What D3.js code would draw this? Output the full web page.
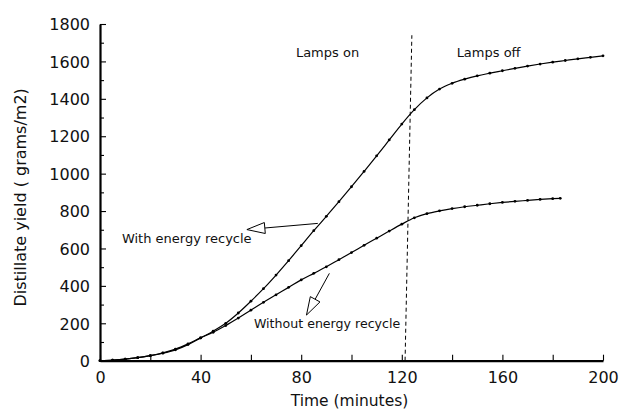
<!DOCTYPE html>
<html>
<head>
<meta charset="utf-8">
<script src="https://cdn.jsdelivr.net/npm/d3@7"></script>
<style>
  html, body { margin: 0; padding: 0; background: #fff; }
  svg { display: block; }
  text { font-family: "DejaVu Sans", sans-serif; fill: #111; }
</style>
</head>
<body>
<svg id="chart" width="619" height="412"></svg>
<script>
// ---------- data ----------
const withTime = [0,5,10,15,20,25,30,35,40,45,50,55,60,65,70,75,80,85,90,95,100,105,110,115,120,125,130,135,140,145,150,155,160,165,170,175,180,185,190,195,200];
const withYield = [0,3,8,16,27,40,58,86,122,158,200,255,318,385,458,535,615,695,772,850,930,1012,1095,1180,1265,1342,1405,1452,1483,1505,1523,1537,1550,1563,1575,1586,1596,1605,1614,1622,1630];

const withoutTime = [0,5,10,15,20,25,30,35,40,45,50,55,60,65,70,75,80,85,90,95,100,105,110,115,120,125,130,135,140,145,150,155,160,165,170,175,180,183];
const withoutYield = [0,3,8,16,27,42,62,90,122,152,188,228,270,312,352,392,432,467,502,540,578,617,655,693,730,764,786,801,813,823,831,839,846,852,857,862,866,868];

const xTicks = [0,40,80,120,160,200];
const xMinorTicks = [20,60,100,140,180];
const yTicks = [0,200,400,600,800,1000,1200,1400,1600,1800];
const yMinorTicks = [100,300,500,700,900,1100,1300,1500,1700];

const xTitle = "Time (minutes)";
const yTitle = "Distillate yield ( grams/m2)";

// lamps-off boundary (time, yield) endpoints
const lampLineTime = [121.3, 124];
const lampLineYield = [0, 1740];

// annotations: label text and anchor (time, yield)
const annLabels = ["Lamps on", "Lamps off", "With energy recycle", "Without energy recycle"];
const annTime = [77.9, 141.8, 8.7, 61.2];
const annYield = [1623, 1623, 631, 173];
// arrows: from (time, yield) on the curve to tip (time, yield)
const arrowFromTime = [86.6, 91.2];
const arrowFromYield = [734, 467];
const arrowToTime = [58.4, 82.1];
const arrowToYield = [701, 244];

// ---------- chart ----------
const svg = d3.select("#chart");
const x = d3.scaleLinear().domain([0, 200]).range([100, 603]);
const y = d3.scaleLinear().domain([0, 1800]).range([360.7, 24]);

// axes
const xAxis = d3.axisBottom(x).tickValues(xTicks).tickSizeInner(-6).tickSizeOuter(0).tickPadding(11).tickFormat(d3.format("d"));
const gx = svg.append("g").attr("transform", `translate(0,${y(0)})`).call(xAxis);
const gxm = svg.append("g").attr("transform", `translate(0,${y(0)})`)
  .call(d3.axisBottom(x).tickValues(xMinorTicks).tickSizeInner(-6).tickSizeOuter(0).tickFormat(""));
gxm.select(".domain").remove();

const yAxis = d3.axisLeft(y).tickValues(yTicks).tickSizeInner(-6).tickSizeOuter(0).tickPadding(10).tickFormat(d3.format("d"));
const gy = svg.append("g").attr("transform", `translate(${x(0)},0)`).call(yAxis);
const gym = svg.append("g").attr("transform", `translate(${x(0)},0)`)
  .call(d3.axisLeft(y).tickValues(yMinorTicks).tickSizeInner(-4).tickSizeOuter(0).tickFormat(""));
gym.select(".domain").remove();

[gx, gy, gxm, gym].forEach(g => {
  g.selectAll(".domain").attr("stroke", "#000").attr("stroke-width", 2.2);
  g.selectAll(".tick line").attr("stroke", "#000").attr("stroke-width", 1.1);
  g.selectAll(".tick text").attr("font-family", "DejaVu Sans, sans-serif").attr("font-size", 16).attr("fill", "#111");
});
gx.selectAll(".tick text").attr("dy", "0.71em");
gy.selectAll(".tick text").attr("dy", "0.36em");

// axis titles
svg.append("text").attr("x", (x(0) + x(200)) / 2 - 2).attr("y", 406)
  .attr("text-anchor", "middle").attr("font-size", 15.5).text(xTitle);
svg.append("text").attr("transform", `translate(26,${(y(0) + y(1800)) / 2 + 5}) rotate(-90)`)
  .attr("text-anchor", "middle").attr("font-size", 16).text(yTitle);

// lines
const line = d3.line().x(d => x(d[0])).y(d => y(d[1])).curve(d3.curveMonotoneX);
const series = [
  d3.zip(withTime, withYield),
  d3.zip(withoutTime, withoutYield)
];
series.forEach(pts => {
  svg.append("path").datum(pts).attr("d", line)
    .attr("fill", "none").attr("stroke", "#000").attr("stroke-width", 1.2);
  svg.append("g").selectAll("circle").data(pts).join("circle")
    .attr("cx", d => x(d[0])).attr("cy", d => y(d[1])).attr("r", 1.4).attr("fill", "#000");
});

// lamps-off dashed line
svg.append("line")
  .attr("x1", x(lampLineTime[0])).attr("y1", y(lampLineYield[0]))
  .attr("x2", x(lampLineTime[1])).attr("y2", y(lampLineYield[1]))
  .attr("stroke", "#000").attr("stroke-width", 1).attr("stroke-dasharray", "4,3");

// annotation labels
const annSizes = [13, 13, 13, 12.6];
annLabels.forEach((t, i) => {
  svg.append("text").attr("x", x(annTime[i])).attr("y", y(annYield[i]))
    .attr("font-size", annSizes[i]).text(t);
});

// arrows with open triangular heads
arrowFromTime.forEach((_, i) => {
  const x1 = x(arrowFromTime[i]), y1 = y(arrowFromYield[i]);
  const x2 = x(arrowToTime[i]), y2 = y(arrowToYield[i]);
  const dx = x2 - x1, dy = y2 - y1, len = Math.hypot(dx, dy);
  const ux = dx / len, uy = dy / len, px = -uy, py = ux;
  const headLen = 18, headHalf = 5.5;
  const bx = x2 - ux * headLen, by = y2 - uy * headLen;
  svg.append("line").attr("x1", x1).attr("y1", y1).attr("x2", bx).attr("y2", by)
    .attr("stroke", "#000").attr("stroke-width", 1);
  svg.append("path")
    .attr("d", `M${x2},${y2}L${bx + px * headHalf},${by + py * headHalf}L${bx - px * headHalf},${by - py * headHalf}Z`)
    .attr("fill", "#fff").attr("stroke", "#000").attr("stroke-width", 1);
});
</script>
</body>
</html>
